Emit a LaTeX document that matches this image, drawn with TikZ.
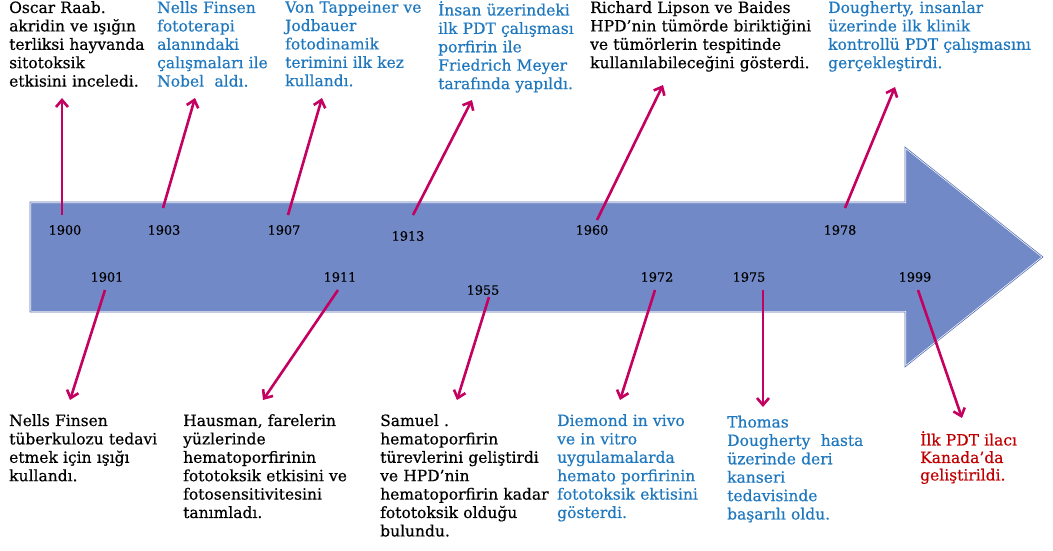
\documentclass[tikz,border=0pt]{standalone}
\usepackage{fontspec}
\setmainfont{DejaVu Serif}
\newfontfamily\heavyserif[FakeBold=0.5]{DejaVu Serif}
\usetikzlibrary{arrows.meta}
\definecolor{arrowblue}{RGB}{113,137,198}
\definecolor{arrowedge}{RGB}{88,112,178}
\definecolor{mag}{RGB}{196,0,96}
\definecolor{txtblue}{RGB}{31,120,190}
\definecolor{txtred}{RGB}{192,0,0}
\begin{document}
\begin{tikzpicture}[x=1pt,y=-1pt,
  evt/.style={anchor=north west, inner sep=0pt, text width=270pt, align=left,
              font=\heavyserif\fontsize{15.5}{18.4}\selectfont},
  yr/.style={inner sep=0pt, font=\heavyserif\fontsize{12.8}{14}\selectfont, text=black},
  conn/.style={draw=mag, line width=2.6pt,
               -{Straight Barb[length=7pt,width=12pt,line width=2.6pt]}},
  bigarrow/.style={fill=arrowblue, draw=white, line width=2pt},
]
\useasboundingbox (0,0) rectangle (1053,550);

% big timeline arrow
\coordinate (A) at (30,202);
\coordinate (B) at (905,202);
\coordinate (C) at (905,147);
\coordinate (D) at (1043,257);
\coordinate (E) at (905,367);
\coordinate (F) at (905,312);
\coordinate (G) at (30,312);
\fill[black!22, shift={(-3,3)}] (A) -- (B) -- (C) -- (D) -- (E) -- (F) -- (G) -- cycle;
\path[bigarrow] (A) -- (B) -- (C) -- (D) -- (E) -- (F) -- (G) -- cycle;
\draw[arrowedge, line width=0.6pt] (A) -- (B) -- (C) -- (D) -- (E) -- (F) -- (G) -- cycle;

% year labels
\node[yr] (y1900) at (65,230) {1900};
\node[yr] (y1903) at (164,230) {1903};
\node[yr] (y1907) at (284,230) {1907};
\node[yr] (y1913) at (408,236) {1913};
\node[yr] (y1960) at (592,230) {1960};
\node[yr] (y1978) at (840,230) {1978};
\node[yr] (y1901) at (107,277) {1901};
\node[yr] (y1911) at (340,277) {1911};
\node[yr] (y1955) at (483,290) {1955};
\node[yr] (y1972) at (657,277) {1972};
\node[yr] (y1975) at (749,277) {1975};
\node[yr] (y1999) at (915,277) {1999};

% event texts, top row
\node[evt, text=black] (t1900) at (9,1) {Oscar Raab.\\akridin ve ışığın\\terliksi hayvanda\\sitotoksik\\etkisini inceledi.};
\node[evt, text=txtblue] (t1903) at (157,1) {Nells Finsen\\fototerapi\\alanındaki\\çalışmaları ile\\Nobel~ aldı.};
\node[evt, text=txtblue] (t1907) at (285,1) {Von Tappeiner ve\\Jodbauer\\fotodinamik\\terimini ilk kez\\kullandı.};
\node[evt, text=txtblue] (t1913) at (438,1) {İnsan üzerindeki\\ilk PDT çalışması\\porfirin ile\\Friedrich Meyer\\tarafında yapıldı.};
\node[evt, text=black] (t1960) at (590,1) {Richard Lipson ve Baides\\HPD’nin tümörde biriktiğini\\ve tümörlerin tespitinde\\kullanılabileceğini gösterdi.};
\node[evt, text=txtblue] (t1978) at (828,1) {Dougherty, insanlar\\üzerinde ilk klinik\\kontrollü PDT çalışmasını\\gerçekleştirdi.};

% event texts, bottom row
\node[evt, text=black] (t1901) at (9,414) {Nells Finsen\\tüberkulozu tedavi\\etmek için ışığı\\kullandı.};
\node[evt, text=black] (t1911) at (183,414) {Hausman, farelerin\\yüzlerinde\\hematoporfirinin\\fototoksik etkisini ve\\fotosensitivitesini\\tanımladı.};
\node[evt, text=black] (t1955) at (380,414) {Samuel .\\hematoporfirin\\türevlerini geliştirdi\\ve HPD’nin\\hematoporfirin kadar\\fototoksik olduğu\\bulundu.};
\node[evt, text=txtblue] (t1972) at (557,414) {Diemond in vivo\\ve in vitro\\uygulamalarda\\hemato porfirinin\\fototoksik ektisini\\gösterdi.};
\node[evt, text=txtblue] (t1975) at (727,415.5) {Thomas\\Dougherty~ hasta\\üzerinde deri\\kanseri\\tedavisinde\\başarılı oldu.};
\node[evt, text=txtred, font=\heavyserif\fontsize{15.5}{17.5}\selectfont] (t1999) at (920,431) {İlk PDT ilacı\\Kanada’da\\geliştirildi.};

% connector end points
\coordinate (a1900) at (62,215);  \coordinate (b1900) at (62,98);
\coordinate (a1903) at (163,208); \coordinate (b1903) at (195,98);
\coordinate (a1907) at (288,215); \coordinate (b1907) at (322,98);
\coordinate (a1913) at (413,215); \coordinate (b1913) at (472,100);
\coordinate (a1960) at (597,220); \coordinate (b1960) at (663,85);
\coordinate (a1978) at (845,208); \coordinate (b1978) at (895,87);
\coordinate (a1901) at (105,290); \coordinate (b1901) at (70,400);
\coordinate (a1911) at (338,290); \coordinate (b1911) at (263,400);
\coordinate (a1955) at (489,297); \coordinate (b1955) at (457,400);
\coordinate (a1972) at (655,290); \coordinate (b1972) at (620,400);
\coordinate (a1975) at (763,290); \coordinate (b1975) at (763,407);
\coordinate (a1999) at (918,290); \coordinate (b1999) at (962,418);

\foreach \yy in {1900,1903,1907,1913,1960,1978,1901,1911,1955,1972,1975,1999}
  \draw[conn] (a\yy) -- (b\yy);
\end{tikzpicture}
\end{document}
